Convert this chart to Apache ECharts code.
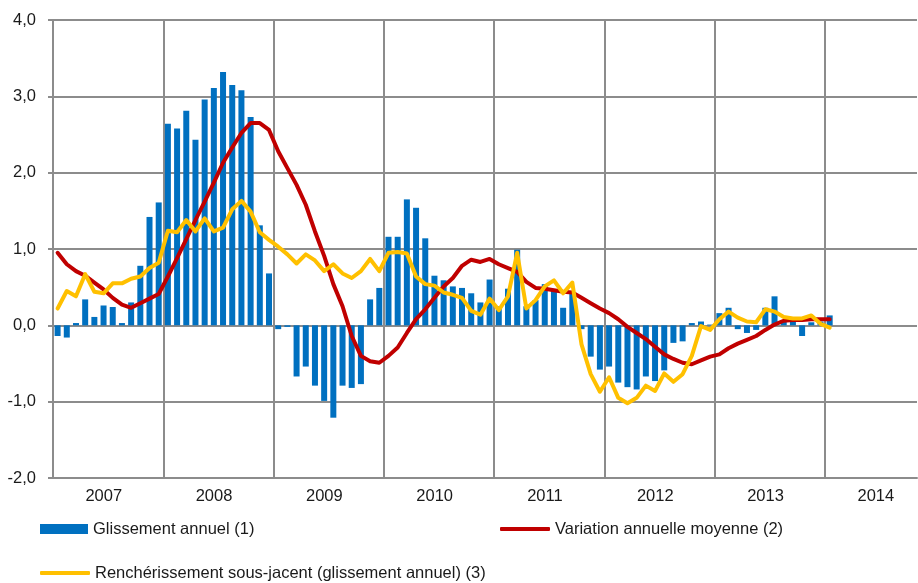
<!DOCTYPE html>
<html>
<head>
<meta charset="utf-8">
<script src="https://cdn.jsdelivr.net/npm/echarts@6/dist/echarts.min.js"></script>
<style>
  html, body { margin: 0; padding: 0; background: #fff; }
  #chart { width: 918px; height: 583px; }
</style>
</head>
<body>
<div id="chart"></div>
<script>
  // x axis: one label per year, data monthly Jan 2007 - Jan 2014 (axis is cut in autumn 2014)
  const years = ['2007', '2008', '2009', '2010', '2011', '2012', '2013', '2014']
  const months = []
  years.forEach(y => {
    for (let m = 1; m <= 12; m++) months.push(y + '-' + (m < 10 ? '0' + m : m))
  })
  const visibleMonths = months.slice(0, 94)

  const yTicks = [-2, -1, 0, 1, 2, 3, 4]

  // (1) Glissement annuel
  const glissement = [
    -0.14, -0.16, 0.03, 0.34, 0.11, 0.26, 0.24, 0.03, 0.30, 0.78, 1.42, 1.61,
    2.64, 2.58, 2.81, 2.43, 2.96, 3.11, 3.32, 3.15, 3.08, 2.73, 1.31, 0.68,
    -0.05, -0.02, -0.67, -0.54, -0.79, -0.99, -1.21, -0.79, -0.82, -0.77, 0.34, 0.49,
    1.16, 1.16, 1.65, 1.54, 1.14, 0.65, 0.59, 0.51, 0.49, 0.42, 0.30, 0.60,
    0.25, 0.48, 0.99, 0.25, 0.33, 0.54, 0.47, 0.23, 0.41, -0.05, -0.41, -0.58,
    -0.54, -0.75, -0.81, -0.84, -0.67, -0.73, -0.59, -0.23, -0.21, 0.03, 0.05, 0.01,
    0.16, 0.23, -0.05, -0.10, -0.06, 0.23, 0.38, 0.07, 0.05, -0.14, 0.04, 0.05,
    0.13
  ]

  // (2) Variation annuelle moyenne
  const moyenne = [
    0.95, 0.80, 0.71, 0.65, 0.56, 0.47, 0.36, 0.27, 0.23, 0.29, 0.35, 0.41,
    0.64, 0.88, 1.13, 1.38, 1.62, 1.87, 2.13, 2.33, 2.52, 2.65, 2.65, 2.56,
    2.28, 2.06, 1.84, 1.58, 1.23, 0.91, 0.54, 0.25, -0.14, -0.40, -0.47, -0.49,
    -0.40, -0.29, -0.10, 0.08, 0.21, 0.36, 0.51, 0.62, 0.78, 0.86, 0.83, 0.87,
    0.80, 0.75, 0.70, 0.57, 0.49, 0.48, 0.46, 0.44, 0.43, 0.36, 0.29, 0.22,
    0.16, 0.08, -0.02, -0.10, -0.18, -0.28, -0.38, -0.44, -0.49, -0.51, -0.46, -0.41,
    -0.38, -0.30, -0.24, -0.19, -0.14, -0.06, 0.01, 0.06, 0.07, 0.07, 0.08, 0.08,
    0.08
  ]

  // (3) Renchérissement sous-jacent (glissement annuel)
  const sousJacent = [
    0.22, 0.45, 0.38, 0.67, 0.44, 0.42, 0.55, 0.55, 0.61, 0.64, 0.75, 0.82,
    1.24, 1.22, 1.38, 1.23, 1.40, 1.23, 1.28, 1.52, 1.63, 1.49, 1.22, 1.12,
    1.03, 0.93, 0.81, 0.93, 0.85, 0.71, 0.80, 0.68, 0.62, 0.71, 0.87, 0.71,
    0.95, 0.96, 0.94, 0.64, 0.54, 0.52, 0.43, 0.40, 0.36, 0.19, 0.14, 0.35,
    0.20, 0.38, 0.95, 0.22, 0.33, 0.51, 0.59, 0.42, 0.56, -0.25, -0.64, -0.87,
    -0.68, -0.95, -1.02, -0.95, -0.79, -0.86, -0.63, -0.74, -0.64, -0.40, -0.01, -0.06,
    0.08, 0.18, 0.10, 0.05, 0.04, 0.21, 0.18, 0.11, 0.09, 0.09, 0.13, 0.02,
    -0.03
  ]

  const names = [
    'Glissement annuel (1)',
    'Variation annuelle moyenne (2)',
    'Renchérissement sous-jacent (glissement annuel) (3)'
  ]

  const font = '"Liberation Sans", Arial, sans-serif'
  const gridColor = '#8c8c8c'
  const textColor = '#1a1a1a'
  const legendText = { fontFamily: font, fontSize: 16.5, color: textColor, lineHeight: 20 }

  // year lines: one per year boundary (8), none at the cut right edge
  const yearLineColors = years.map(() => gridColor).concat(['rgba(0,0,0,0)'])

  const option = {
    animation: false,
    textStyle: { fontFamily: font },
    grid: { left: 53, top: 20, bottom: 105, right: 1, containLabel: false },
    legend: [
      {
        data: [names[0]], left: 35, top: 514, padding: 5, icon: 'rect',
        itemWidth: 48, itemHeight: 10, textStyle: legendText
      },
      {
        data: [names[1]], left: 495, top: 514, padding: 5, icon: 'roundRect',
        itemWidth: 50, itemHeight: 4, textStyle: legendText
      },
      {
        data: [names[2]], left: 35, top: 558, padding: 5, icon: 'roundRect',
        itemWidth: 50, itemHeight: 4, textStyle: legendText
      }
    ],
    xAxis: {
      type: 'category',
      data: visibleMonths,
      boundaryGap: true,
      axisLine: { onZero: false, lineStyle: { color: gridColor, width: 2 } },
      axisTick: { show: false },
      axisLabel: {
        interval: i => i % 12 === 6,
        formatter: v => v.slice(0, 4),
        fontSize: 16.5, color: textColor, margin: 10, fontFamily: font,
        padding: [0, 18, 0, 0]
      },
      splitLine: {
        show: true,
        interval: i => i % 12 === 0,
        lineStyle: { color: yearLineColors, width: 2 }
      }
    },
    yAxis: {
      type: 'value',
      min: yTicks[0],
      max: yTicks[yTicks.length - 1],
      interval: 1,
      axisLine: { show: true, lineStyle: { color: gridColor, width: 2 } },
      axisTick: { show: true, length: 5, lineStyle: { color: gridColor, width: 2 } },
      axisLabel: {
        fontSize: 16.5, color: textColor, margin: 17, fontFamily: font,
        formatter: v => v.toFixed(1).replace('.', ',')
      },
      splitLine: { lineStyle: { color: gridColor, width: 2 } }
    },
    series: [
      {
        name: names[0],
        type: 'bar',
        data: glissement,
        barWidth: 6,
        itemStyle: { color: '#0070C0' }
      },
      {
        name: names[1],
        type: 'line',
        data: moyenne,
        symbol: 'none',
        color: '#C00000',
        lineStyle: { color: '#C00000', width: 4, join: 'round', cap: 'round' }
      },
      {
        name: names[2],
        type: 'line',
        data: sousJacent,
        symbol: 'none',
        color: '#FFC000',
        lineStyle: { color: '#FFC000', width: 4, join: 'round', cap: 'round' }
      }
    ]
  }

  const chart = echarts.init(document.getElementById('chart'))
  chart.setOption(option)
  window.addEventListener('resize', () => chart.resize())
</script>
</body>
</html>
